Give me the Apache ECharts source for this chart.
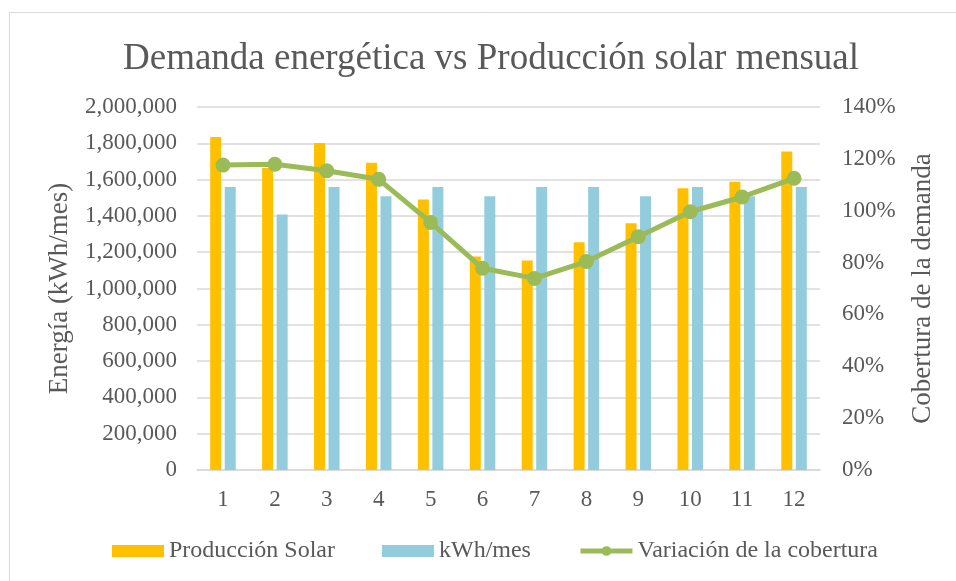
<!DOCTYPE html>
<html>
<head>
<meta charset="utf-8">
<script src="https://cdn.jsdelivr.net/npm/echarts@6/dist/echarts.min.js"></script>
<style>
  html, body { margin: 0; padding: 0; background: #fff; }
  #chart { width: 956px; height: 581px; }
</style>
</head>
<body>
<div id="chart"></div>
<script>
const months = ['1', '2', '3', '4', '5', '6', '7', '8', '9', '10', '11', '12'];
const produccion = [1835000, 1664000, 1801000, 1693000, 1491000, 1176000, 1154000, 1255000, 1360000, 1553000, 1588000, 1755000];
const demanda = [1559000, 1408000, 1559000, 1508000, 1559000, 1508000, 1559000, 1559000, 1508000, 1559000, 1508000, 1559000];
const cobertura = [117.6, 117.9, 115.4, 112.1, 95.5, 77.8, 73.9, 80.4, 90.0, 99.6, 105.3, 112.5];

const font = '"Liberation Serif", "Times New Roman", serif';
const grey = '#595959';

let myChart = echarts.init(document.getElementById('chart'));

var option = {
    textStyle: { fontFamily: font },
    title: {
        text: 'Demanda energética vs Producción solar mensual',
        left: 118,
        top: 36,
        textStyle: { fontFamily: font, fontSize: 37, fontWeight: 'normal', color: grey }
    },
    graphic: [
        { type: 'line', shape: { x1: 9.5, y1: 12.5, x2: 956, y2: 12.5 }, style: { stroke: '#d9d9d9', lineWidth: 1 } },
        { type: 'line', shape: { x1: 9.5, y1: 12.5, x2: 9.5, y2: 581 }, style: { stroke: '#d9d9d9', lineWidth: 1 } }
    ],
    legend: {
        bottom: 13,
        left: 107,
        itemWidth: 52,
        itemHeight: 12,
        itemGap: 47,
        textStyle: { fontFamily: font, fontSize: 24, color: grey },
        data: [
            { name: 'Producción Solar', icon: 'rect' },
            { name: 'kWh/mes', icon: 'rect' },
            { name: 'Variación de la cobertura', lineStyle: { width: 5 } }
        ]
    },
    grid: { left: 197, right: 136, top: 107, bottom: 111 },
    xAxis: {
        type: 'category',
        data: months,
        axisLine: { lineStyle: { color: '#d9d9d9', width: 1.5 } },
        axisTick: { show: false },
        axisLabel: { fontFamily: font, fontSize: 23, color: grey, margin: 18 }
    },
    yAxis: [
        {
            type: 'value',
            min: 0, max: 2000000, interval: 200000,
            name: 'Energía (kWh/mes)',
            nameLocation: 'middle',
            nameGap: 124,
            nameTextStyle: { fontFamily: font, fontSize: 27, color: grey },
            axisLabel: {
                fontFamily: font, fontSize: 23, color: grey, margin: 20,
                formatter: v => v.toLocaleString('en-US')
            },
            splitLine: { lineStyle: { color: '#d9d9d9', width: 1.5 } },
            axisLine: { show: false },
            axisTick: { show: false }
        },
        {
            type: 'value',
            min: 0, max: 140, interval: 20,
            name: 'Cobertura de la demanda',
            nameLocation: 'middle',
            nameGap: 89,
            nameRotate: 90,
            nameTextStyle: { fontFamily: font, fontSize: 27, color: grey },
            axisLabel: {
                fontFamily: font, fontSize: 23, color: grey, margin: 22,
                formatter: v => v + '%'
            },
            splitLine: { show: false },
            axisLine: { show: false },
            axisTick: { show: false }
        }
    ],
    series: [
        {
            name: 'Producción Solar',
            type: 'bar',
            data: produccion,
            barWidth: 11,
            barGap: '32%',
            itemStyle: { color: '#FFC000' }
        },
        {
            name: 'kWh/mes',
            type: 'bar',
            data: demanda,
            barWidth: 11,
            itemStyle: { color: '#93CDDD' }
        },
        {
            name: 'Variación de la cobertura',
            type: 'line',
            yAxisIndex: 1,
            data: cobertura,
            symbol: 'circle',
            symbolSize: 15,
            lineStyle: { color: '#9BBB59', width: 5 },
            itemStyle: { color: '#9BBB59' }
        }
    ]
};

myChart.setOption(option);

window.addEventListener('resize', () => {
    myChart.resize();
});
</script>
</body>
</html>
